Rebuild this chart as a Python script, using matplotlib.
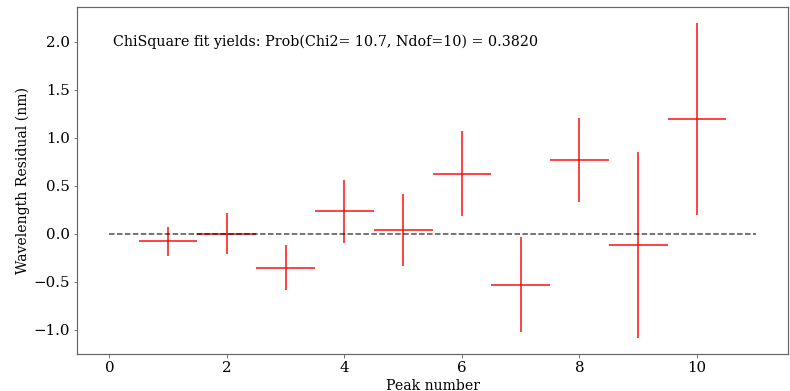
import matplotlib
matplotlib.use("Agg")
import matplotlib.pyplot as plt

plt.rcParams['font.family'] = ['DejaVu Serif']

peaks = [1, 2, 3, 4, 5, 6, 7, 8, 9, 10]
residuals = [-0.08, 0.0, -0.354, 0.232, 0.035, 0.625, -0.53, 0.77, -0.118, 1.198]
residual_err = [0.148, 0.215, 0.236, 0.325, 0.374, 0.445, 0.497, 0.436, 0.972, 1.0]
peak_halfwidth = [0.5] * 10
zero_line_x = [0, 11]
zero_line_y = [0, 0]
fit_text = "ChiSquare fit yields: Prob(Chi2= 10.7, Ndof=10) = 0.3820"

DPI = 72
fig = plt.figure(figsize=(790 / DPI, 391 / DPI), dpi=DPI)
ax = fig.add_axes([0.0975, 0.0946, 0.9, 0.8874])

ax.errorbar(peaks, residuals, xerr=peak_halfwidth, yerr=residual_err,
            fmt='none', ecolor='red', alpha=0.8, elinewidth=1.8)
ax.plot(zero_line_x, zero_line_y, '--', color='black', alpha=0.7, linewidth=1.5)

ax.text(0.05, 0.9, fit_text, transform=ax.transAxes, va='center', ha='left',
        fontsize=14.3)

ax.set_xlabel("Peak number", fontsize=14)
ax.set_ylabel("Wavelength Residual (nm)", fontsize=14)
ax.tick_params(labelsize=15, color='#555555')
ax.set_xticks([0, 2, 4, 6, 8, 10])
ax.set_yticks([-1.0, -0.5, 0.0, 0.5, 1.0, 1.5, 2.0])
for s in ax.spines.values():
    s.set_color('#666666')
    s.set_linewidth(1.2)

fig.savefig("out.png", dpi=DPI)
